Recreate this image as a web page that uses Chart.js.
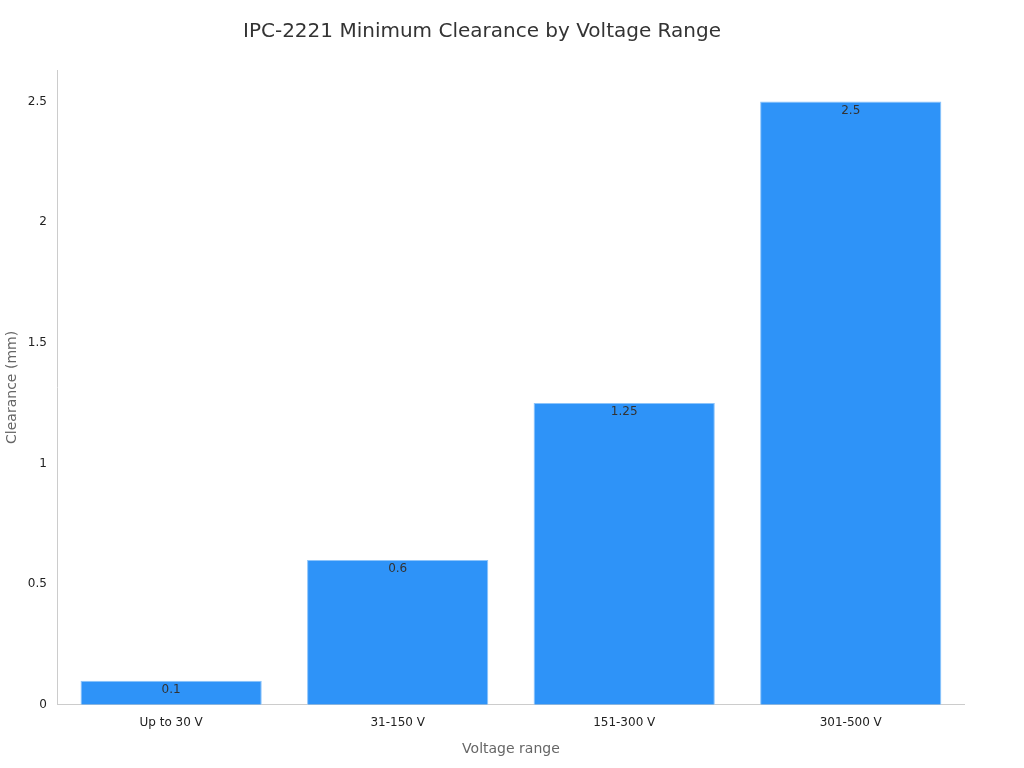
<!DOCTYPE html>
<html>
<head>
<meta charset="utf-8">
<script src="https://cdn.jsdelivr.net/npm/chart.js@4"></script>
<style>
  body { margin: 0; background: #fff; }
  #wrap { width: 1024px; height: 768px; }
</style>
</head>
<body>
<div id="wrap"><canvas id="chart"></canvas></div>
<script>
const categories = ['Up to 30 V', '31-150 V', '151-300 V', '301-500 V'];
const clearance = [0.1, 0.6, 1.25, 2.5];

Chart.defaults.font.family = 'DejaVu Sans';

// value labels just inside the top of each bar
const valueLabels = {
  id: 'valueLabels',
  afterDatasetsDraw(chart) {
    const ctx = chart.ctx;
    const meta = chart.getDatasetMeta(0);
    ctx.save();
    ctx.font = '12px DejaVu Sans';
    ctx.fillStyle = '#333';
    ctx.textAlign = 'center';
    ctx.textBaseline = 'top';
    meta.data.forEach((bar, i) => {
      ctx.fillText(String(clearance[i]), bar.x, bar.y + 3);
    });
    ctx.restore();
  }
};

const ctx = document.getElementById('chart').getContext('2d');
new Chart(ctx, {
  type: 'bar',
  data: {
    labels: categories,
    datasets: [{
      data: clearance,
      backgroundColor: '#2e93f8',
      borderColor: '#8cc4fb',
      borderWidth: 1,
      barPercentage: 0.8,
      categoryPercentage: 1.0
    }]
  },
  options: {
    responsive: true,
    maintainAspectRatio: false,
    animation: false,
    layout: { padding: { top: 10, right: 60, left: 0, bottom: 6 } },
    plugins: {
      legend: { display: false },
      tooltip: { enabled: false },
      title: {
        display: true,
        text: 'IPC-2221 Minimum Clearance by Voltage Range',
        color: '#333',
        font: { size: 20, weight: 'normal' },
        padding: { top: 10, bottom: 26 }
      }
    },
    scales: {
      x: {
        grid: { display: false },
        border: { color: '#ccc' },
        ticks: { color: '#222', font: { size: 12 } },
        title: { display: true, text: 'Voltage range', color: '#666', font: { size: 14 }, padding: { top: 8 } }
      },
      y: {
        min: 0,
        max: 2.63,
        grid: { display: false, drawTicks: true },
        border: { color: '#ccc' },
        ticks: {
          stepSize: 0.5,
          color: '#222',
          font: { size: 12 },
          callback: v => (v % 0.5 === 0 ? v : null)
        },
        afterBuildTicks(axis) {
          axis.ticks = [0, 0.5, 1, 1.5, 2, 2.5].map(v => ({ value: v }));
        },
        title: { display: true, text: 'Clearance (mm)', color: '#666', font: { size: 14 } }
      }
    }
  },
  plugins: [valueLabels]
});
</script>
</body>
</html>
